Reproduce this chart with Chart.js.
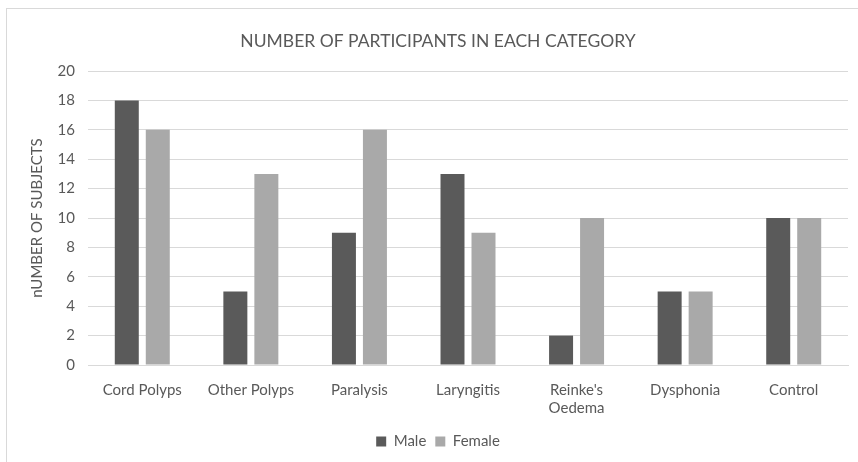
<!DOCTYPE html>
<html>
<head>
<meta charset="utf-8">
<script src="https://cdn.jsdelivr.net/npm/chart.js@4.4.1/dist/chart.umd.min.js"></script>
<style>
  html, body { margin: 0; padding: 0; background: #ffffff; }
  #wrap { position: relative; width: 858px; height: 462px; overflow: hidden; }
  #frame { position: absolute; left: 6px; top: 8px; width: 900px; height: 500px; border: 1px solid #d9d9d9; box-sizing: border-box; }
  #c { position: absolute; left: 0; top: 0; }
</style>
</head>
<body>
<div id="wrap">
  <div id="frame"></div>
  <canvas id="c" width="858" height="462"></canvas>
</div>
<script>
const categories = ["Cord Polyps", "Other Polyps", "Paralysis", "Laryngitis", ["Reinke's", "Oedema"], "Dysphonia", "Control"];
const maleCounts = [18, 5, 9, 13, 2, 5, 10];
const femaleCounts = [16, 13, 16, 9, 10, 5, 10];
const yTicks = [0, 2, 4, 6, 8, 10, 12, 14, 16, 18, 20];

const textColor = "#595959";
const fontFamily = "Lato, 'Open Sans', sans-serif";

new Chart(document.getElementById("c"), {
  type: "bar",
  data: {
    labels: categories,
    datasets: [
      { label: "Male", data: maleCounts, backgroundColor: "#5a5a5a", categoryPercentage: 0.571, barPercentage: 0.774 },
      { label: "Female", data: femaleCounts, backgroundColor: "#a9a9a9", categoryPercentage: 0.571, barPercentage: 0.774 }
    ]
  },
  options: {
    responsive: false,
    animation: false,
    layout: { padding: { left: 28, right: 10, top: 0, bottom: 3 } },
    plugins: {
      title: {
        display: true,
        text: "NUMBER OF PARTICIPANTS IN EACH CATEGORY",
        color: textColor,
        font: { family: fontFamily, size: 17.5, weight: "normal" },
        padding: { top: 31, bottom: 19 }
      },
      legend: {
        position: "bottom",
        labels: {
          color: textColor,
          font: { family: fontFamily, size: 15 },
          boxWidth: 10,
          boxHeight: 10,
          padding: 9
        }
      },
      tooltip: { enabled: false }
    },
    scales: {
      x: {
        grid: { display: false },
        border: { display: true, color: "#d9d9d9" },
        ticks: { color: textColor, font: { family: fontFamily, size: 15, lineHeight: 1.2 }, maxRotation: 0, padding: 8 }
      },
      y: {
        min: 0,
        max: 20,
        afterFit: (scale) => { scale.width = 60; },
        afterBuildTicks: (scale) => { scale.ticks = yTicks.map(v => ({ value: v })); },
        grid: { color: "#d9d9d9", drawTicks: false },
        border: { display: false },
        ticks: { color: textColor, font: { family: fontFamily, size: 15 }, padding: 13 },
        title: {
          display: true,
          text: "nUMBER OF SUBJECTS",
          color: textColor,
          font: { family: fontFamily, size: 15 },
          padding: { top: 0, bottom: 0 }
        }
      }
    }
  }
});
</script>
</body>
</html>
